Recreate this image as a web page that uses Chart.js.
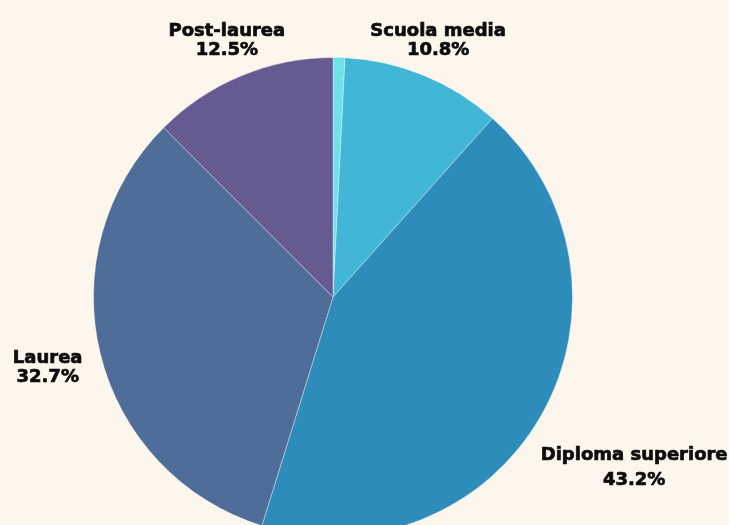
<!DOCTYPE html>
<html lang="it">
<head>
<meta charset="UTF-8">
<title>Titolo di studio</title>
<script src="https://cdn.jsdelivr.net/npm/chart.js@4.4.7/dist/chart.umd.min.js"></script>
<style>
*{margin:0;padding:0;box-sizing:border-box}
html,body{width:729px;height:525px;overflow:hidden;background:#fdf6ed}
#wrap{position:relative;width:729px;height:560px}
</style>
</head>
<body>
<div id="wrap"><canvas id="pie"></canvas></div>
<script>
var LABELS = ["Altro", "Scuola media", "Diploma superiore", "Laurea", "Post-laurea"];
var VALUES = [0.8, 10.8, 43.2, 32.7, 12.5];
var COLORS = ["#6fe1e9", "#42b6d6", "#2e8cba", "#4e6d99", "#665b91"];
var SHOW_LABEL = [false, true, true, true, true];

// label placement tweaks (extra gap from the rim, line height) per slice index
var LABEL_STYLE = {
  1: { off: -6, lh: 19 },
  2: { off: 13, lh: 25 },
  3: { off: 16, lh: 19 },
  4: { off: -2, lh: 19 }
};

var outsideLabels = {
  id: "outsideLabels",
  afterDatasetsDraw: function(chart) {
    var ctx = chart.ctx;
    var meta = chart.getDatasetMeta(0);
    ctx.save();
    ctx.font = "bold 18px 'DejaVu Sans', sans-serif";
    ctx.fillStyle = "#0d0d0d";
    ctx.strokeStyle = "#0d0d0d";
    ctx.lineWidth = 0.7;
    ctx.lineJoin = "round";
    ctx.textAlign = "center";
    ctx.textBaseline = "middle";
    meta.data.forEach(function(arc, i) {
      if (!SHOW_LABEL[i]) return;
      var st = LABEL_STYLE[i];
      var p = arc.getProps(["x", "y", "startAngle", "endAngle", "outerRadius"], true);
      var a = (p.startAngle + p.endAngle) / 2;
      var lines = [LABELS[i], VALUES[i].toFixed(1) + "%"];
      var w = Math.max.apply(null, lines.map(function(t) { return ctx.measureText(t).width; }));
      var h = lines.length * st.lh;
      var c = Math.cos(a), s = Math.sin(a);
      var ext = Math.abs(c) * w / 2 + Math.abs(s) * h / 2;
      var d = p.outerRadius + st.off + ext;
      var cx = p.x + c * d, cy = p.y + s * d;
      lines.forEach(function(t, k) {
        var ty = cy - h / 2 + st.lh / 2 + k * st.lh;
        ctx.fillText(t, cx, ty);
        ctx.strokeText(t, cx, ty);
      });
    });
    ctx.restore();
  }
};

new Chart(document.getElementById("pie"), {
  type: "pie",
  data: {
    labels: LABELS,
    datasets: [{
      data: VALUES,
      backgroundColor: COLORS,
      borderColor: "rgba(255,255,255,0.35)",
      borderWidth: 1
    }]
  },
  options: {
    responsive: true,
    maintainAspectRatio: false,
    animation: false,
    layout: { padding: { top: 57, bottom: 23, left: 0, right: 63 } },
    plugins: { legend: { display: false }, tooltip: { enabled: false } }
  },
  plugins: [outsideLabels]
});
</script>
</body>
</html>
